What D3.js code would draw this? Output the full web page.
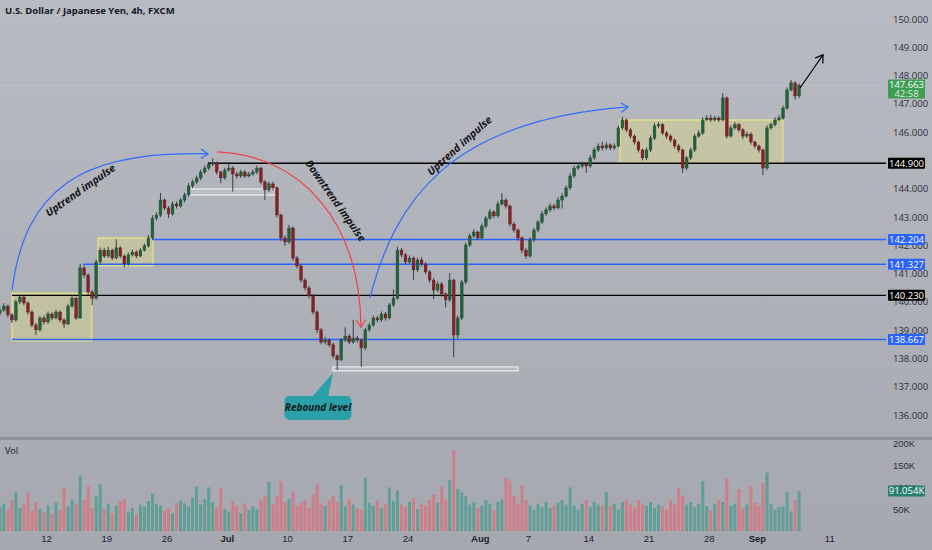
<!DOCTYPE html>
<html><head><meta charset="utf-8">
<script src="https://cdn.jsdelivr.net/npm/d3@7/dist/d3.min.js"></script>
<style>
html,body{margin:0;padding:0;background:#b0b3ba;}
svg{display:block;font-family:"Open Sans","DejaVu Sans",sans-serif;}
</style></head><body>
<svg id="c" width="932" height="550"></svg>
<script>
// ---------- DATA ----------
const title = "U.S. Dollar / Japanese Yen, 4h, FXCM";
const firstDay = -4;      // trading-day index of first candle (0 = Mon 12 Jun)
const candlesPerDay = 3;
const opens = [
139.60,139.71,139.85,139.54,139.36,140.00,140.17,139.96,139.64,139.18,
139.01,139.43,139.29,139.57,139.43,139.64,139.36,139.22,139.85,140.13,
139.43,141.20,140.95,140.35,140.13,141.41,141.83,141.62,141.83,141.55,
141.91,141.62,141.34,141.66,141.76,141.62,141.83,141.98,142.26,142.96,
143.07,143.60,143.32,143.11,143.46,143.39,143.60,143.78,144.10,144.24,
144.38,144.59,144.73,144.87,144.91,144.59,144.38,144.66,144.73,144.52,
144.45,144.59,144.45,144.52,144.59,144.73,144.24,143.96,144.17,144.03,
143.07,142.26,142.12,142.61,141.55,141.27,140.77,140.49,140.21,139.64,
139.01,138.58,138.65,138.48,138.09,137.95,138.65,138.79,138.58,138.72,
138.65,138.37,139.01,139.18,139.43,139.36,139.57,139.43,139.89,140.13,
141.83,141.66,141.41,141.55,141.13,141.48,141.34,141.06,140.77,140.42,
140.63,140.28,140.07,140.77,138.83,139.43,140.70,142.01,142.33,142.47,
142.26,142.68,142.96,143.18,143.04,143.46,143.60,143.39,142.75,142.54,
142.26,141.83,141.62,142.19,142.54,142.82,143.11,143.25,143.39,143.32,
143.60,143.74,144.03,144.45,144.73,144.80,144.87,144.80,145.09,145.37,
145.51,145.44,145.55,145.44,145.51,146.15,146.43,146.08,145.86,145.65,
145.37,145.09,145.37,145.79,146.22,146.26,145.97,145.86,145.72,145.51,
145.37,144.73,145.09,145.37,145.86,145.97,146.43,146.50,146.43,146.50,
146.43,147.21,145.86,146.15,146.26,146.08,145.86,145.93,145.65,145.51,
145.37,144.73,146.15,146.26,146.43,146.50,146.85,147.49,147.74,147.28];
const highs = [
139.82,139.95,139.90,139.60,140.08,140.25,140.22,140.02,139.70,139.25,
139.50,139.52,139.66,139.63,139.72,139.70,139.42,139.92,140.24,140.18,
141.35,141.28,141.00,140.42,141.50,141.92,141.90,141.95,141.88,142.21,
141.96,141.68,141.74,141.85,141.82,141.90,142.06,142.36,143.06,143.16,
143.85,143.66,143.38,143.55,143.54,143.68,143.86,144.20,144.32,144.46,
144.68,144.82,144.95,145.08,144.96,144.64,144.74,144.95,144.80,144.60,
144.67,144.65,144.60,144.68,144.82,144.78,144.30,144.25,144.24,144.08,
143.12,142.35,142.72,142.66,141.62,141.32,140.84,140.56,140.28,139.70,
139.08,138.76,138.72,138.55,138.15,138.72,139.10,138.86,139.36,138.80,
138.70,139.08,139.26,139.52,139.50,139.66,139.64,139.96,140.44,141.95,
141.90,141.72,141.64,141.60,141.56,141.58,141.40,141.12,140.84,140.72,
140.70,140.34,141.02,140.82,139.52,140.78,142.10,142.42,142.56,142.52,
142.77,143.04,143.28,143.24,143.56,143.85,143.66,143.44,142.82,142.60,
142.32,141.90,142.28,142.62,142.90,143.20,143.34,143.48,143.46,143.70,
143.84,144.12,144.55,144.82,144.90,144.96,144.94,145.18,145.46,145.60,
145.66,145.64,145.60,145.60,146.24,146.54,146.48,146.14,145.92,145.70,
145.42,145.46,145.88,146.32,146.36,146.32,146.04,145.92,145.78,145.58,
145.42,145.16,145.46,145.94,146.06,146.52,146.60,146.62,146.58,146.56,
147.38,147.26,146.24,146.36,146.32,146.14,146.02,146.00,145.70,145.56,
145.42,146.24,146.34,146.52,146.60,146.94,147.58,147.85,147.80,147.72];
const lows = [
139.52,139.65,139.45,139.25,139.30,139.92,139.88,139.55,139.10,138.83,
138.95,139.20,139.22,139.35,139.38,139.28,139.08,139.18,139.80,139.36,
139.40,140.85,140.25,139.88,140.08,141.35,141.55,141.56,141.48,141.50,
141.55,141.22,141.28,141.60,141.55,141.58,141.78,141.92,142.20,142.88,
143.00,143.24,142.96,143.05,143.30,143.33,143.52,143.72,144.02,144.16,
144.30,144.52,144.66,144.80,144.50,144.20,144.32,144.60,143.90,144.36,
144.38,144.38,144.40,144.46,144.52,144.15,143.60,143.88,143.94,142.98,
142.15,141.98,142.05,141.45,141.18,140.68,140.40,140.12,139.55,138.90,
138.50,138.50,138.40,138.00,137.59,137.90,138.58,138.50,138.52,138.56,
137.70,138.30,138.94,139.12,139.28,139.30,139.34,139.38,139.82,140.08,
141.58,141.32,141.35,140.77,141.06,141.26,140.98,140.68,140.10,140.35,
140.18,139.80,140.00,138.05,138.70,139.36,140.62,141.94,142.26,142.18,
142.20,142.60,142.90,142.96,142.98,143.40,143.30,142.66,142.45,142.16,
141.72,141.52,141.56,142.12,142.46,142.75,143.04,143.18,143.24,143.26,
143.30,143.68,143.96,144.38,144.66,144.72,144.56,144.74,145.02,145.30,
145.36,145.38,145.36,145.38,145.46,146.08,146.00,145.78,145.56,145.28,
145.00,145.02,145.30,145.72,146.14,145.90,145.76,145.64,145.42,145.28,
144.56,144.66,145.02,145.30,145.80,145.90,146.40,146.36,146.38,146.36,
146.38,145.78,145.80,146.08,146.00,145.76,145.80,145.56,145.42,145.28,
144.48,144.66,146.08,146.20,146.40,146.44,146.80,147.44,147.14,147.20];
const closes = [
139.71,139.85,139.54,139.36,140.00,140.17,139.96,139.64,139.18,139.01,
139.43,139.29,139.57,139.43,139.64,139.36,139.22,139.85,140.13,139.43,
141.20,140.95,140.35,140.13,141.41,141.83,141.62,141.83,141.55,141.91,
141.62,141.34,141.66,141.76,141.62,141.83,141.98,142.26,142.96,143.07,
143.60,143.32,143.11,143.46,143.39,143.60,143.78,144.10,144.24,144.38,
144.59,144.73,144.87,144.91,144.59,144.38,144.66,144.73,144.52,144.45,
144.59,144.45,144.52,144.59,144.73,144.24,143.96,144.17,144.03,143.07,
142.26,142.12,142.61,141.55,141.27,140.77,140.49,140.21,139.64,139.01,
138.58,138.65,138.48,138.09,137.95,138.65,138.79,138.58,138.72,138.65,
138.37,139.01,139.18,139.43,139.36,139.57,139.43,139.89,140.13,141.83,
141.66,141.41,141.55,141.13,141.48,141.34,141.06,140.77,140.42,140.63,
140.28,140.07,140.77,138.83,139.43,140.70,142.01,142.33,142.47,142.26,
142.68,142.96,143.18,143.04,143.46,143.60,143.39,142.75,142.54,142.26,
141.83,141.62,142.19,142.54,142.82,143.11,143.25,143.39,143.32,143.60,
143.74,144.03,144.45,144.73,144.80,144.87,144.80,145.09,145.37,145.51,
145.44,145.55,145.44,145.51,146.15,146.43,146.08,145.86,145.65,145.37,
145.09,145.37,145.79,146.22,146.26,145.97,145.86,145.72,145.51,145.37,
144.73,145.09,145.37,145.86,145.97,146.43,146.50,146.43,146.50,146.43,
147.21,145.86,146.15,146.26,146.08,145.86,145.93,145.65,145.51,145.37,
144.73,146.15,146.26,146.43,146.50,146.85,147.49,147.74,147.28,147.663];
const volumes = [ // thousands
55,62,48,70,88,52,60,88,45,66,
50,42,58,38,64,47,99,55,72,60,
126,70,101,52,80,106,48,62,40,58,
66,72,44,52,38,60,55,68,85,62,
58,46,52,40,64,70,62,55,76,101,
60,72,99,66,54,97,50,44,68,58,
40,62,48,56,50,72,80,112,60,78,
114,66,72,90,58,64,70,52,82,106,
62,58,70,80,66,104,56,72,60,52,
48,121,64,58,70,52,62,99,68,92,
60,54,66,74,50,62,58,70,82,64,
101,72,116,184,95,88,80,60,66,52,
58,70,62,48,66,72,121,114,80,62,
104,70,58,48,62,54,66,52,58,64,
70,60,99,58,48,62,70,54,66,60,
58,88,56,62,48,66,72,60,54,70,
62,58,66,52,60,56,48,70,62,98,
80,60,66,54,62,114,56,48,62,70,
66,119,58,62,95,52,60,101,64,58,
110,133,62,48,54,56,88,44,70,91.054];
const tickDays   = [0,5,10,15,20,25,30,36,40,45,50,55,59,65];
const tickLabels = ["12","19","26","Jul","10","17","24","Aug","7","14","21","28","Sep","11"];
const priceTicks = [136,137,138,139,140,141,142,143,144,146,147,148,149,150];
const volTicks = [50,100,150,200];
const levelPrices = [144.900,142.204,141.327,140.230,138.667];
const levelKinds  = ["support","zone","zone","support","zone"];
const levelStartDays = [13.44,8.80,3.07,-2.82,-2.82];
const lastPrice = 147.663, countdown = "42:58", lastVolume = 91.054;
const zones = [ // [startDay, endDay, lowPrice, highPrice]
  [-2.82,3.81,138.62,140.31],
  [4.32,8.88,141.27,142.26],
  [47.63,61.16,144.91,146.43]];
const whiteRanges = [ [11.9,19.2,143.78,143.99], [23.82,39.17,137.56,137.70] ];
const arcs = [ // cubic control points [day, price]; label; label point; angle
  {pts:[[-2.82,140.42],[-1.74,143.96],[2.82,145.37],[13.44,145.23]], kind:"up", label:"Uptrend impulse", at:[2.9,143.92], rot:-35},
  {pts:[[14.19,145.30],[21.08,145.19],[26.06,142.89],[26.14,139.11]], kind:"down", label:"Downtrend impulse", at:[23.97,143.56], rot:55},
  {pts:[[26.89,140.14],[28.96,143.60],[33.53,146.43],[48.30,146.89]], kind:"up", label:"Uptrend impulse", at:[34.36,145.5], rot:-42},
  {pts:[[62.57,147.56],[63.2,147.95],[63.85,148.34],[64.48,148.73]], kind:"proj", label:"", at:null, rot:0}];
const callout = {text:"Rebound level", tip:[23.82,137.49], center:[22.57,136.25]};

// ---------- DRAW ----------
const W=932,H=550, plotR=886, priceBottom=437;
const svg=d3.select("#c");
const defs=svg.append("defs");
const bg=defs.append("linearGradient").attr("id","bg").attr("x1",0).attr("y1",0).attr("x2",0).attr("y2",1);
bg.append("stop").attr("offset","0%").attr("stop-color","#b8bbc2");
bg.append("stop").attr("offset","100%").attr("stop-color","#a5a8af");
svg.append("rect").attr("width",W).attr("height",H).attr("fill","url(#bg)");
defs.append("clipPath").attr("id","pc").append("rect").attr("x",0).attr("y",0).attr("width",plotR).attr("height",priceBottom);

const x=d3.scaleLinear().domain([0,65]).range([46,46+65*12.05]);
const y=d3.scaleLinear().domain([136,150]).range([415,19]);
const yv=d3.scaleLinear().domain([0,200]).range([531,443]);
const cx=i=>x(firstDay+(i+0.5)/candlesPerDay);

// separator between panes
svg.append("rect").attr("x",0).attr("y",437).attr("width",W).attr("height",3).attr("fill","#8e9198");

const pane=svg.append("g").attr("clip-path","url(#pc)");
// last price line
pane.append("line").attr("x1",0).attr("x2",plotR).attr("y1",y(lastPrice)).attr("y2",y(lastPrice))
  .attr("stroke","#c9ccd2").attr("stroke-width",1).attr("stroke-dasharray","1,1");

// zones
pane.selectAll(".zone").data(zones).join("rect")
  .attr("x",d=>x(d[0])).attr("width",d=>x(d[1])-x(d[0]))
  .attr("y",d=>y(d[3])).attr("height",d=>y(d[2])-y(d[3]))
  .attr("fill","rgba(240,232,110,0.30)").attr("stroke","rgba(245,238,120,0.95)").attr("stroke-width",1);

// level lines
const lvlColor=k=>k==="support"?"#000000":"#2962ff";
pane.selectAll(".lvl").data(levelPrices).join("line")
  .attr("x1",(d,i)=>x(levelStartDays[i])).attr("x2",plotR+2)
  .attr("y1",d=>y(d)).attr("y2",d=>y(d))
  .attr("stroke",(d,i)=>lvlColor(levelKinds[i])).attr("stroke-width",1.4);

// white ranges
pane.selectAll(".wr").data(whiteRanges).join("rect")
  .attr("x",d=>x(d[0])).attr("width",d=>x(d[1])-x(d[0]))
  .attr("y",d=>y(d[3])).attr("height",d=>y(d[2])-y(d[3]))
  .attr("fill","rgba(255,255,255,0.12)").attr("stroke","rgba(245,245,245,0.9)").attr("stroke-width",1.2);

// candles
const upC="#25603d", dnC="#7e2328";
const cg=pane.append("g");
closes.forEach((c,i)=>{
  const o=opens[i], up=c>=o, col=up?upC:dnC, X=cx(i);
  cg.append("line").attr("x1",X).attr("x2",X).attr("y1",y(highs[i])).attr("y2",y(lows[i]))
    .attr("stroke","#3a3c41").attr("stroke-width",1);
  const t=y(Math.max(o,c)), b=y(Math.min(o,c));
  cg.append("rect").attr("x",X-1.4).attr("width",2.8).attr("y",t).attr("height",Math.max(1,b-t))
    .attr("fill",col).attr("stroke",d3.color(col).darker(0.6)).attr("stroke-width",0.4);
});

// arcs
function bez(p,t){const m=1-t;return [m*m*m*p[0][0]+3*m*m*t*p[1][0]+3*m*t*t*p[2][0]+t*t*t*p[3][0],
  m*m*m*p[0][1]+3*m*m*t*p[1][1]+3*m*t*t*p[2][1]+t*t*t*p[3][1]];}
const arcColor={up:"#2f6bff",down:"#f2404a",proj:"#000000"};
arcs.forEach(a=>{
  const P=a.pts.map(d=>[x(d[0]),y(d[1])]);
  const path=d3.path(); path.moveTo(P[0][0],P[0][1]); path.bezierCurveTo(P[1][0],P[1][1],P[2][0],P[2][1],P[3][0],P[3][1]);
  const col=arcColor[a.kind];
  svg.append("path").attr("d",path.toString()).attr("fill","none").attr("stroke",col).attr("stroke-width",1.2);
  const tip=P[3], pre=bez(P,0.97);
  const ang=Math.atan2(tip[1]-pre[1],tip[0]-pre[0]), L=8;
  [ang+2.55,ang-2.55].forEach(b=>{
    svg.append("line").attr("x1",tip[0]).attr("y1",tip[1]).attr("x2",tip[0]+L*Math.cos(b)).attr("y2",tip[1]+L*Math.sin(b))
      .attr("stroke",col).attr("stroke-width",1.2).attr("stroke-linecap","round");
  });
  if(a.label){
    svg.append("text").attr("transform",`translate(${x(a.at[0])},${y(a.at[1])}) rotate(${a.rot})`)
      .attr("text-anchor","middle").attr("dominant-baseline","middle")
      .attr("font-size",10.5).attr("font-weight",700).attr("font-style","italic").attr("fill","#111318")
      .text(a.label);
  }
});

// callout
{
  const tx=x(callout.tip[0]), ty=y(callout.tip[1]), bx=x(callout.center[0]), by=y(callout.center[1]);
  const bw=67,bh=24;
  const col="#2aa0a8";
  svg.append("path").attr("d",`M${bx-6},${by-bh/2+1} L${tx},${ty} L${bx+10},${by-bh/2+1} Z`).attr("fill",col);
  svg.append("rect").attr("x",bx-bw/2).attr("y",by-bh/2).attr("width",bw).attr("height",bh).attr("rx",5).attr("fill",col);
  svg.append("text").attr("x",bx).attr("y",by).attr("text-anchor","middle").attr("dominant-baseline","middle")
    .attr("font-size",10).attr("font-weight",700).attr("font-style","italic").attr("fill","#0f1a1c").text(callout.text);
}

// volume bars
svg.append("g").selectAll("rect").data(volumes).join("rect")
  .attr("x",(d,i)=>cx(i)-1.5).attr("width",3)
  .attr("y",d=>yv(d)).attr("height",d=>yv(0)-yv(d))
  .attr("fill",(d,i)=>closes[i]>=opens[i]?"rgba(38,150,130,0.55)":"rgba(240,90,100,0.55)");

// price axis
const ax=svg.append("g").attr("transform","translate(893,0)")
  .call(d3.axisRight(y).tickValues(priceTicks).tickFormat(d3.format(".3f")).tickSize(0).tickPadding(0));
ax.select(".domain").remove();
ax.selectAll("text").attr("font-size",9.5).attr("fill","#2a2e39").attr("font-family","'Open Sans',sans-serif");

// level labels
levelPrices.forEach((p,i)=>{
  const g=svg.append("g").attr("transform",`translate(888,${y(p)})`);
  g.append("rect").attr("x",0).attr("y",-5.5).attr("width",37).attr("height",11).attr("rx",1).attr("fill",lvlColor(levelKinds[i]));
  g.append("text").attr("x",18.5).attr("y",0).attr("dy","0.35em").attr("text-anchor","middle")
    .attr("font-size",9.5).attr("fill","#ffffff").text(d3.format(".3f")(p));
});
// last price label
{
  const g=svg.append("g").attr("transform",`translate(888,${y(lastPrice)})`);
  g.append("rect").attr("x",0).attr("y",-5.5).attr("width",37).attr("height",19).attr("rx",1).attr("fill","#3e9d52");
  g.append("text").attr("x",18.5).attr("y",0).attr("dy","0.35em").attr("text-anchor","middle").attr("font-size",9.5).attr("fill","#ffffff").text(d3.format(".3f")(lastPrice));
  g.append("text").attr("x",18.5).attr("y",9).attr("dy","0.35em").attr("text-anchor","middle").attr("font-size",9.5).attr("fill","#d8f0dc").text(countdown);
}

// volume axis
const vax=svg.append("g").attr("transform","translate(893,0)")
  .call(d3.axisRight(yv).tickValues(volTicks).tickFormat(d=>d+"K").tickSize(0).tickPadding(0));
vax.select(".domain").remove();
vax.selectAll("text").attr("font-size",9.5).attr("fill","#2a2e39");
{
  const g=svg.append("g").attr("transform",`translate(888,${yv(lastVolume)})`);
  g.append("rect").attr("x",0).attr("y",-5.5).attr("width",37).attr("height",11).attr("rx",1).attr("fill","#27806c");
  g.append("text").attr("x",18.5).attr("y",0).attr("dy","0.35em").attr("text-anchor","middle").attr("font-size",9.5).attr("fill","#ffffff").text(d3.format(".3f")(lastVolume)+"K");
}

// time axis
const tax=svg.append("g").attr("transform","translate(0,535)")
  .call(d3.axisBottom(x).tickValues(tickDays).tickFormat((d,i)=>tickLabels[i]).tickSize(0).tickPadding(0));
tax.select(".domain").remove();
tax.selectAll("text").attr("font-size",9.5).attr("fill","#1e222d")
  .attr("font-weight",(d,i)=>/[A-Za-z]/.test(tickLabels[i])?700:400);

// titles
svg.append("text").attr("x",5).attr("y",14).attr("font-size",9.5).attr("font-weight",700).attr("fill","#131722").text(title);
svg.append("text").attr("x",5).attr("y",454).attr("font-size",9).attr("fill","#131722").text("Vol");
</script>
</body></html>
